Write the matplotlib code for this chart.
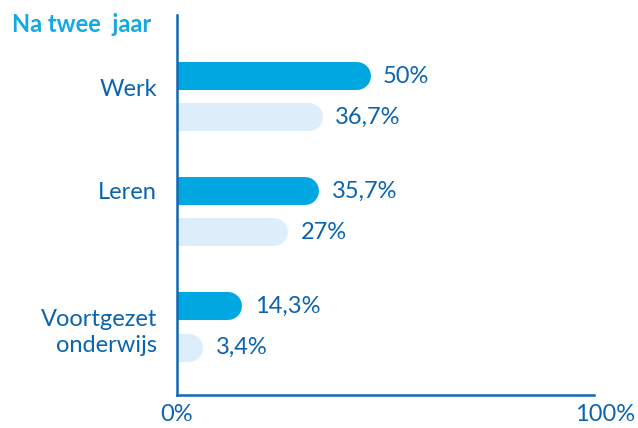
import matplotlib.pyplot as plt

categories = ["Werk", "Leren", "Voortgezet\nonderwijs"]
values_dark = [50, 35.7, 14.3]
values_light = [36.7, 27, 3.4]
labels_dark = ["50%", "35,7%", "14,3%"]
labels_light = ["36,7%", "27%", "3,4%"]
title = "Na twee  jaar"

DARK = "#00a7e1"
LIGHT = "#ddedf9"
TEXT = "#0b64ae"
AXIS = "#1268b3"

plt.rcParams["font.family"] = ["Lato", "DejaVu Sans"]

fig = plt.figure(figsize=(6.38, 4.28), dpi=100)
ax = fig.add_axes([177 / 638, 33 / 428, 417 / 638, 380 / 428])

bar_lw = 28 * 72 / 100  # 28 px thick, round cap
off = 0.18
for i, cat in enumerate(categories):
    for v, lab, dy, col in [(values_dark[i], labels_dark[i], -off, DARK),
                            (values_light[i], labels_light[i], off, LIGHT)]:
        ax.plot([-10, v], [i + dy, i + dy], color=col, lw=bar_lw,
                solid_capstyle="round", clip_on=True)
        ax.annotate(lab, (v, i + dy), xytext=(19, 0), textcoords="offset points",
                    ha="left", va="center", fontsize=17, color=TEXT)

label_dy = [-0.06, -0.17, 0.05]
for i, cat in enumerate(categories):
    ax.text(-0.048, i + label_dy[i], cat, transform=ax.get_yaxis_transform(),
            ha="right", va="center", fontsize=17, color=TEXT, linespacing=1.25)

ax.set_xlim(0, 116)
ax.set_ylim(2.593, -0.711)
ax.set_yticks([])
ax.set_xticks([])
ax.text(0, -0.052, "0%", transform=ax.transAxes, ha="center", va="center",
        fontsize=17, color=TEXT)
ax.text(1.027, -0.052, "100%", transform=ax.transAxes, ha="center", va="center",
        fontsize=17, color=TEXT)

for s in ["top", "right"]:
    ax.spines[s].set_visible(False)
for s in ["left", "bottom"]:
    ax.spines[s].set_color(AXIS)
    ax.spines[s].set_linewidth(1.8)

fig.text(12 / 638, 1 - 24 / 428, title, ha="left", va="center", fontsize=17,
         fontweight="bold", color="#14a9e0")

fig.savefig("out.png", dpi=100)
